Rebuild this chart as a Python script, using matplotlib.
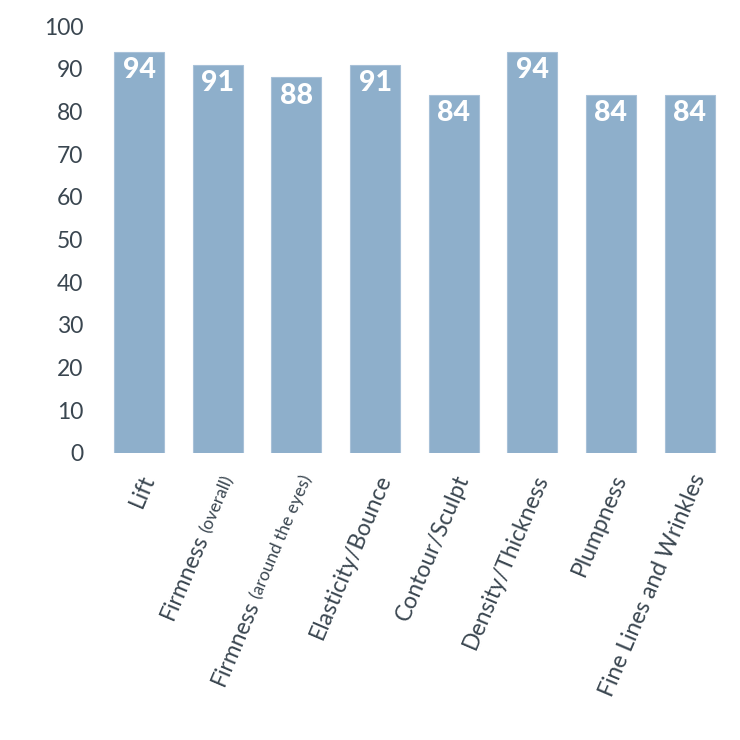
import numpy as np
import matplotlib.pyplot as plt
from matplotlib.transforms import ScaledTranslation

categories = ["Lift", "Firmness", "Firmness", "Elasticity/Bounce", "Contour/Sculpt",
              "Density/Thickness", "Plumpness", "Fine Lines and Wrinkles"]
suffixes = ["", "(overall)", "(around the eyes)", "", "", "", "", ""]
values = [94, 91, 88, 91, 84, 94, 84, 84]

bar_color = "#8eafcb"
text_color = "#3a4650"
rot = 67

plt.rcParams['font.family'] = ['Lato', 'DejaVu Sans']

fig = plt.figure(figsize=(7.4, 7.4), dpi=100)
ax = fig.add_axes([0.135, 0.388, 0.85, 0.5765])

x = np.arange(len(values))
bars = ax.bar(x, values, width=0.635, color=bar_color, edgecolor="#a8c1d8", linewidth=0.8)
ax.set_xlim(-0.5, len(values) - 0.5)
ax.set_ylim(0, 100)
ax.set_yticks(range(0, 101, 10))
ax.tick_params(axis='y', length=0, pad=12, labelsize=16.5, labelcolor=text_color)
ax.set_xticks([])
for s in ax.spines.values():
    s.set_visible(False)

for xi, v in zip(x, values):
    ax.annotate(str(v), (xi, v), xytext=(0, -4), textcoords="offset points",
                ha="center", va="top", color="white", fontsize=20.5, fontweight="black")

# rotated category labels, with a smaller suffix for the two Firmness items
fig.canvas.draw()
r = fig.canvas.get_renderer()
th = np.deg2rad(rot)
base = ax.get_xaxis_transform() + ScaledTranslation(16 / 100, -25 / 100, fig.dpi_scale_trans)
for xi, main, small in zip(x, categories, suffixes):
    shift = 0.0
    if small:
        ax.text(xi, 0, small, rotation=rot, rotation_mode="anchor", ha="right",
                va="baseline", fontsize=12.5, color=text_color, transform=base)
        tmp = fig.text(0, 0, " " + small, fontsize=12.5)
        shift = tmp.get_window_extent(r).width
        tmp.remove()
    tr = base + ScaledTranslation(-shift * np.cos(th) / 100, -shift * np.sin(th) / 100,
                                  fig.dpi_scale_trans)
    ax.text(xi, 0, main, rotation=rot, rotation_mode="anchor", ha="right",
            va="baseline", fontsize=16.5, color=text_color, transform=tr)

plt.savefig("out.png", dpi=100)
